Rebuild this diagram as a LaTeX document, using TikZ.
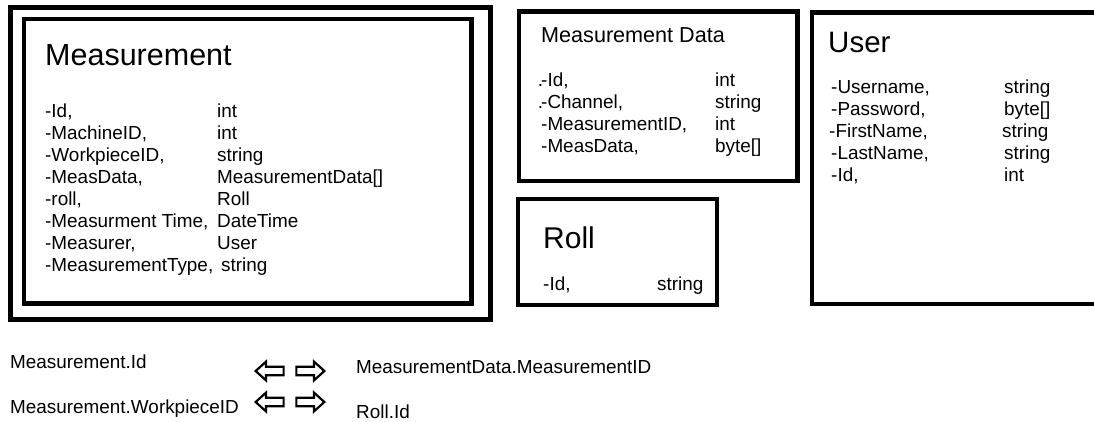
\documentclass[tikz,border=0pt]{standalone}
\usepackage{fontspec}
\setmainfont{Liberation Sans}
\usepackage{tikz}
\usetikzlibrary{shapes.arrows}
\definecolor{ink}{RGB}{0, 0, 0}
\newcommand{\rowfont}{\fontsize{18.9}{22}\selectfont}
\newcommand{\headfont}{\fontsize{30}{36}\selectfont}

\begin{document}
\begin{tikzpicture}[x=1pt, y=-1pt,
  classbox/.style={draw=ink, line width=4.5pt, inner sep=0pt},
  txt/.style={anchor=base west, inner sep=0pt, font=\rowfont},
  title/.style={anchor=base west, inner sep=0pt, font=\headfont},
  link/.style={single arrow, draw=ink, line width=2.2pt, inner sep=3.2pt,
    minimum height=28pt, single arrow head extend=5pt,
    single arrow tip angle=84, single arrow head indent=0pt}]
  \useasboundingbox (0, 0) rectangle (1094, 421);

  % Measurement
  \node[classbox, line width=5pt, minimum width=480pt, minimum height=311.5pt]
    (meas-outer) at (250, 163.25) {};
  \node[classbox, minimum width=447.5pt, minimum height=284.5pt]
    (meas) at (247.75, 161.25) {};
  \node[title, font=\fontsize{30.5}{36}\selectfont] (meas-title) at (45, 65.7) {Measurement};
  \foreach \attr/\kind/\dx [count=\i from 0] in {Id/int/0, MachineID/int/0,
      WorkpieceID/string/0, MeasData/MeasurementData[]/0, roll/Roll/0,
      Measurment Time/DateTime/0, Measurer/User/0, MeasurementType/string/4} {
    \node[txt] (meas-attr-\i) at (45, {117+22*\i}) {-\attr,};
    \node[txt] (meas-kind-\i) at (217+\dx, {117+22*\i}) {\kind};
  }

  % Measurement Data
  \node[classbox, minimum width=278.5pt, minimum height=169.3pt]
    (mdata) at (658.25, 96.35) {};
  \node[txt, font=\fontsize{21.6}{25}\selectfont] (mdata-title) at (541, 42.3) {Measurement Data};
  \foreach \attr/\kind [count=\i from 0] in {\llap{.\kern-2pt}-Id/int,
      \llap{.\kern-2pt}-Channel/string, -MeasurementID/int, -MeasData/byte[]} {
    \node[txt] (mdata-attr-\i) at (541, {86+22*\i}) {\attr,};
    \node[txt] (mdata-kind-\i) at (715, {86+22*\i}) {\kind};
  }

  % Roll
  \node[classbox, minimum width=199pt, minimum height=106pt]
    (roll) at (617.5, 252) {};
  \node[title] (roll-title) at (543, 248) {Roll};
  \node[txt] (roll-attr-0) at (543, 290) {-Id,};
  \node[txt] (roll-kind-0) at (657, 290) {string};

  % User
  \node[classbox, minimum width=298pt, minimum height=291.5pt]
    (user) at (961, 158.25) {};
  \node[title, font=\fontsize{29.5}{35}\selectfont] (user-title) at (828, 52) {User};
  \foreach \attr/\kind/\dx [count=\i from 0] in {Username/string/0,
      Password/byte[]/0, FirstName/string/-2, LastName/string/0, Id/int/0} {
    \node[txt] (user-attr-\i) at (831+\dx, {93+22*\i}) {-\attr,};
    \node[txt] (user-kind-\i) at (1004+\dx, {93+22*\i}) {\kind};
  }

  % Keys
  \node[txt] (key-a) at (10, 368.3) {Measurement.Id};
  \node[link, shape border rotate=180] (key-a-left) at (272, 371) {};
  \node[link] (key-a-right) at (308, 371) {};
  \node[txt] (key-a-ref) at (356, 373.3) {MeasurementData.MeasurementID};

  \node[txt] (key-b) at (10, 413.3) {Measurement.WorkpieceID};
  \node[link, shape border rotate=180] (key-b-left) at (272, 402) {};
  \node[link] (key-b-right) at (308, 402) {};
  \node[txt] (key-b-ref) at (356, 418) {Roll.Id};
\end{tikzpicture}
\end{document}
